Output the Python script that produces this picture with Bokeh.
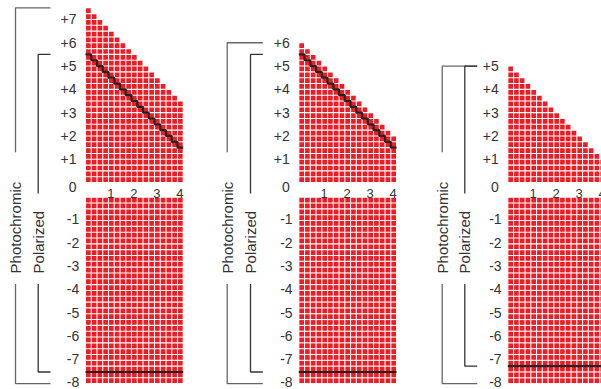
import numpy as np
from bokeh.plotting import figure
from bokeh.layouts import row
from bokeh.models import Range1d
from bokeh.core.properties import value
from bokeh.embed import file_html
from bokeh.resources import INLINE

# ---------------- data ----------------
cylinder_steps = [0.0, 0.25, 0.5, 0.75, 1.0, 1.25, 1.5, 1.75, 2.0,
                  2.25, 2.5, 2.75, 3.0, 3.25, 3.5, 3.75, 4.0]
cyl_tick_values = [1, 2, 3, 4]
cyl_tick_labels = ["1", "2", "3", "4"]
neg_sphere_ticks = [-1, -2, -3, -4, -5, -6, -7, -8]
neg_sphere_labels = ["-1", "-2", "-3", "-4", "-5", "-6", "-7", "-8"]
panel_pos_ticks = [[7, 6, 5, 4, 3, 2, 1], [6, 5, 4, 3, 2, 1], [5, 4, 3, 2, 1]]
panel_pos_labels = [["+7", "+6", "+5", "+4", "+3", "+2", "+1"],
                    ["+6", "+5", "+4", "+3", "+2", "+1"],
                    ["+5", "+4", "+3", "+2", "+1"]]
photo_upper_sum = [7.5, 6.0, 5.0]     # sphere + cylinder limit (photochromic)
photo_lower = [-8.0, -8.0, -8.0]
polar_upper_sum = [5.5, 5.5, 5.0]     # sphere + cylinder limit (polarized)
polar_lower = [-7.5, -7.5, -7.25]
series_names = ["Photochromic", "Polarized"]
STEP = 0.25

# ---------------- layout / style ----------------
XS = 23.0          # px per cylinder unit
YS = 23.3          # px per sphere unit
H = 389
GAP = 0.63         # break between plus and minus sections (sphere units)
Y_TOP = 7.5 + 7.3 / YS
fig_left = [0, 210, 420]
fig_width = [210, 210, 181]
grid_left = [85, 298.3, 507.3]
photo_x = [-3.043, -3.113, -2.852]
polar_x = [-2.057, -2.100, -1.870]
bracket_end = [-1.522, -1.565, -1.330]
PHOTO_BREAK_TOP = 1.30
POLAR_BREAK_TOP = -0.47
BREAK_BOTTOM = -4.35
NAME_Y = -3.90
ZERO_LABEL_Y = -0.20
XLABEL_Y = -0.46
NEG_LABEL_SHIFT = 0.05
POS_LABEL_X = -0.39
NEG_LABEL_X = -0.27
RED = "#ee1c25"
TXT = "#333333"
FONT = value("Liberation Sans")


def disp(s):
    return s if s > 0 else s - GAP


figs = []
for i in range(3):
    x0 = (fig_left[i] - grid_left[i]) / XS
    x1 = x0 + fig_width[i] / XS
    p = figure(width=fig_width[i], height=H, output_backend="svg",
               toolbar_location=None, x_axis_type=None, y_axis_type=None,
               x_range=Range1d(x0, x1), y_range=Range1d(Y_TOP - H / YS, Y_TOP),
               min_border=0, outline_line_color=None,
               background_fill_color="white", border_fill_color="white")

    # cells
    cx, cy = [], []
    for c in cylinder_steps:
        top = photo_upper_sum[i] - c
        s = 0.0
        while s < top - 1e-9:
            cx.append(c + STEP / 2)
            cy.append(s + STEP / 2)
            s += STEP
        s = 0.0
        while s > photo_lower[i] + 1e-9:
            cx.append(c + STEP / 2)
            cy.append(s - STEP / 2 - GAP)
            s -= STEP
    p.rect(x=cx, y=cy, width=STEP - 1.1 / XS, height=STEP - 1.1 / YS,
           fill_color=RED, line_color=None)

    # polarized limits
    if polar_upper_sum[i] < photo_upper_sum[i]:
        sx, sy = [], []
        for c in cylinder_steps:
            sx += [c, c + STEP]
            sy += [polar_upper_sum[i] - c, polar_upper_sum[i] - c]
        p.line(sx, sy, line_color="#222222", line_width=2.2)
    if polar_lower[i] > photo_lower[i]:
        p.line([0, cylinder_steps[-1] + STEP], [disp(polar_lower[i])] * 2,
               line_color="#222222", line_width=2.2)

    # brackets
    bx = [[bracket_end[i], photo_x[i], photo_x[i]],
          [photo_x[i], photo_x[i], bracket_end[i]],
          [bracket_end[i], polar_x[i], polar_x[i]],
          [polar_x[i], polar_x[i], bracket_end[i]]]
    by = [[photo_upper_sum[i], photo_upper_sum[i], PHOTO_BREAK_TOP],
          [BREAK_BOTTOM, disp(photo_lower[i]), disp(photo_lower[i])],
          [polar_upper_sum[i], polar_upper_sum[i], POLAR_BREAK_TOP],
          [BREAK_BOTTOM, disp(polar_lower[i]), disp(polar_lower[i])]]
    p.multi_line(bx, by, line_color=["#666666", "#666666", "#333333", "#333333"],
                 line_width=1.3)

    p.text(x=[photo_x[i], polar_x[i]], y=[NAME_Y, NAME_Y], text=series_names,
           angle=np.pi / 2, text_align="left", text_baseline="middle",
           text_font=FONT, text_font_size="15px", text_color=TXT)

    # sphere tick labels
    py = [disp(v) for v in panel_pos_ticks[i]] + [ZERO_LABEL_Y]
    pt = panel_pos_labels[i] + ["0"]
    p.text(x=[POS_LABEL_X] * len(py), y=py, text=pt, text_align="right",
           text_baseline="middle", text_font=FONT, text_font_size="14px",
           text_color=TXT)
    ny = [disp(v) + NEG_LABEL_SHIFT for v in neg_sphere_ticks]
    p.text(x=[NEG_LABEL_X] * len(ny), y=ny, text=neg_sphere_labels,
           text_align="right", text_baseline="middle", text_font=FONT,
           text_font_size="14px", text_color=TXT)

    # cylinder tick labels
    p.text(x=[v + 0.1 for v in cyl_tick_values], y=[XLABEL_Y] * 4,
           text=cyl_tick_labels, text_align="center", text_baseline="middle",
           text_font=FONT, text_font_size="13px", text_color=TXT)
    figs.append(p)

layout = row(*figs, spacing=0)
open("out.html", "w").write(file_html(layout, INLINE))
